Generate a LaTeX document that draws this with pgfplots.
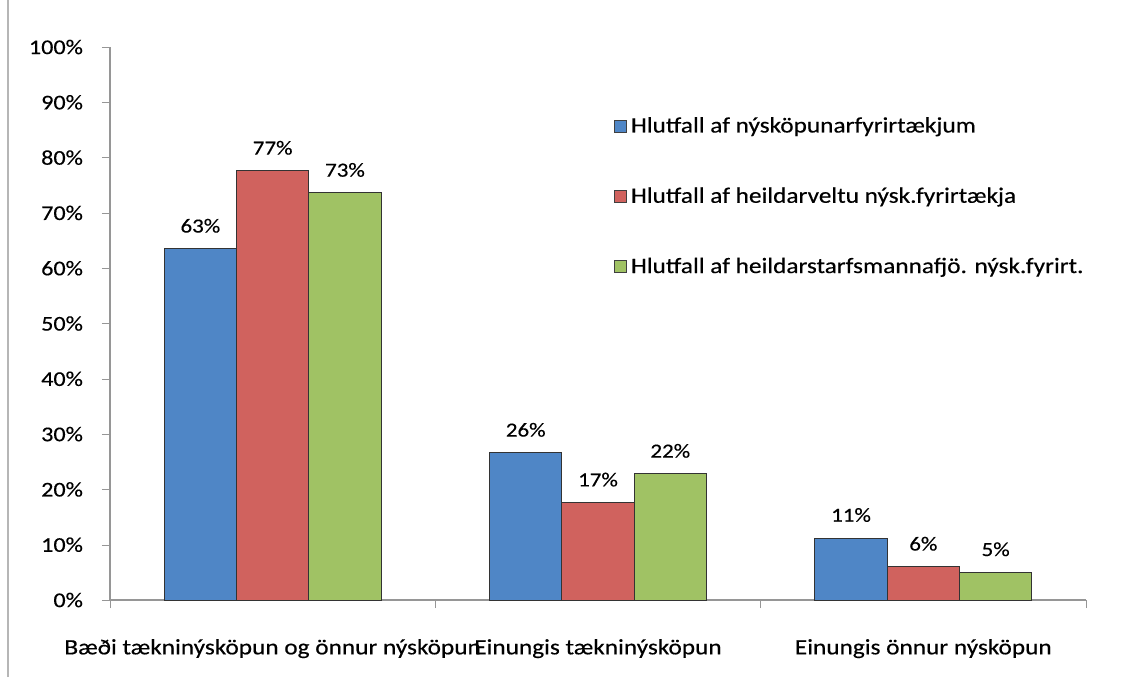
\documentclass[border=0pt]{standalone}
\usepackage{fontspec}
\setmainfont{Carlito}[FakeStretch=1.15, FakeBold=0.35]
\usepackage{pgfplots}
\pgfplotsset{compat=1.18}
\definecolor{sblue}{RGB}{79,134,198}
\definecolor{sred}{RGB}{208,98,94}
\definecolor{sgreen}{RGB}{160,194,100}
\definecolor{axgray}{RGB}{150,150,150}
\begin{document}
\begin{tikzpicture}
\path[use as bounding box] (-55pt,-38.5pt) rectangle (506pt,300pt);
\draw[axgray!70, line width=0.8pt] (-51pt,-38.5pt) -- (-51pt,300pt);
\begin{axis}[
  scale only axis,
  width=488pt, height=276.5pt,
  ybar=0pt,
  bar width=36.15pt,
  xmin=-0.5, xmax=2.5,
  ymin=0, ymax=100,
  ytick={0,10,...,100},
  yticklabel={\pgfmathprintnumber{\tick}\%},
  /pgf/number format/assume math mode=true,
  xtick={0,1,2},
  xticklabels={Bæði tækninýsköpun og önnur nýsköpun, Einungis tækninýsköpun, Einungis önnur nýsköpun},
  major x tick style={draw=none},
  extra x ticks={-0.5,0.5,1.5,2.5},
  extra x tick labels={},
  extra x tick style={major x tick style={draw=axgray}},
  major tick length=4pt,
  axis x line*=bottom,
  axis y line*=left,
  axis line style={axgray, line width=0.8pt, -},
  ytick style={draw=axgray},
  tick align=outside,
  yticklabel style={font=\fontsize{10.5pt}{12pt}\selectfont, xshift=-6pt},
  xticklabel style={font=\fontsize{11pt}{13pt}\selectfont, yshift=-12pt},
  nodes near coords,
  point meta=explicit symbolic,
  every node near coord/.append style={font=\fontsize{10pt}{12pt}\selectfont, yshift=4.5pt},
  legend style={at={(0.516,0.881)}, anchor=north west, draw=none, fill=none,
    font=\fontsize{11pt}{13pt}\selectfont, row sep=22pt, inner sep=0pt},
  legend cell align=left,
  legend image code/.code={\draw[#1, draw=black!75, line width=0.5pt] (0pt,-3pt) rectangle (6pt,3pt);},
]
\addplot[fill=sblue, draw=black!80, line width=0.5pt]
  coordinates {(0,63.5) [63\%] (1,26.6) [26\%] (2,11.2) [11\%]};
\addplot[fill=sred, draw=black!80, line width=0.5pt]
  coordinates {(0,77.6) [77\%] (1,17.6) [17\%] (2,6.0) [6\%]};
\addplot[fill=sgreen, draw=black!80, line width=0.5pt]
  coordinates {(0,73.6) [73\%] (1,22.8) [22\%] (2,5.0) [5\%]};
\legend{Hlutfall af nýsköpunarfyrirtækjum, Hlutfall af heildarveltu nýsk.fyrirtækja, Hlutfall af heildarstarfsmannafjö. nýsk.fyrirt.}
\end{axis}
\end{tikzpicture}
\end{document}
